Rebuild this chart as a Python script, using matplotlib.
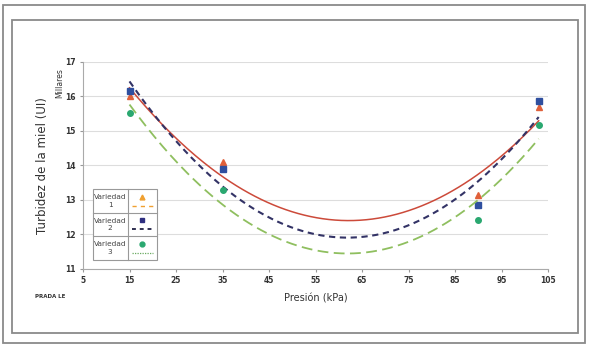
import numpy as np
import matplotlib
matplotlib.use("Agg")
import matplotlib.pyplot as plt
from matplotlib.patches import Rectangle

presion = [15, 35, 90, 103]
variedad1 = [16.00, 14.10, 13.14, 15.70]
variedad2 = [16.15, 13.88, 12.85, 15.87]
variedad3 = [15.52, 13.28, 12.41, 15.17]
names = ["Variedad\n1", "Variedad\n2", "Variedad\n3"]
xticks = [5, 15, 25, 35, 45, 55, 65, 75, 85, 95, 105]
yticks = [11, 12, 13, 14, 15, 16, 17]

fig = plt.figure(figsize=(5.9, 3.52), dpi=100)
W, H = 590, 352

# frames
for (x0, y0, x1, y1) in [(3, 5, 585, 343), (12, 20, 578, 333)]:
    fig.patches.append(Rectangle((x0 / W, 1 - y1 / H), (x1 - x0) / W, (y1 - y0) / H,
                                 transform=fig.transFigure, fill=False,
                                 edgecolor="#8a8a8a", linewidth=1.3))

ax = fig.add_axes([83 / W, 1 - 268.7 / H, (548 - 83) / W, (268.7 - 61.7) / H])
ax.set_xlim(5, 105)
ax.set_ylim(11, 17)
ax.set_xticks(xticks)
ax.set_yticks(yticks)
ax.tick_params(labelsize=5.5, length=2.5, color="#999999", pad=3)
for lab in ax.get_xticklabels() + ax.get_yticklabels():
    lab.set_fontweight("bold")
    lab.set_color("#333333")
ax.grid(axis="y", color="#dddddd", linewidth=0.8)
ax.set_axisbelow(True)
for s in ["top", "right"]:
    ax.spines[s].set_visible(False)
for s in ["left", "bottom"]:
    ax.spines[s].set_color("#aaaaaa")

xs = np.linspace(15, 103, 200)
series = [
    (variedad1, "^", "#e0603a", "#cc4a3a", "-", 1.1),
    (variedad2, "s", "#2f4f9f", "#333366", (0, (3, 2.2)), 1.5),
    (variedad3, "o", "#2aa870", "#8fbf5f", (0, (6, 3)), 1.3),
]
for vals, mk, mc, lc, ls, lw in series:
    c = np.polyfit(presion, vals, 2)
    ax.plot(xs, np.polyval(c, xs), color=lc, linestyle=ls, linewidth=lw)
    ax.plot(presion, vals, linestyle="none", marker=mk, color=mc, markersize=4)

ax.set_xlabel("Presión (kPa)", fontsize=7, color="#333333", labelpad=6)
ax.set_ylabel("Turbidez de la miel (UI)", fontsize=8.5, color="#333333", labelpad=11)
ax.text(-0.05, 0.895, "Millares", transform=ax.transAxes, rotation=90,
        fontsize=5.5, color="#333333", ha="center", va="center")
fig.text(35 / W, 1 - 297 / H, "PRADA LE", fontsize=4, fontweight="bold",
         color="#333333", va="center")

# legend table
lx0, lx1, ldiv = 92.7, 156.7, 127.7
rows = [189, 212.7, 236.3, 260]
fig.patches.append(Rectangle((lx0 / W, 1 - rows[-1] / H), (lx1 - lx0) / W,
                             (rows[-1] - rows[0]) / H,
                             transform=fig.transFigure, facecolor="white",
                             edgecolor="#999999", linewidth=0.8, zorder=5))
for y in rows[1:-1]:
    fig.add_artist(plt.Line2D([lx0 / W, lx1 / W], [1 - y / H] * 2, color="#999999",
                              linewidth=0.8, zorder=6))
fig.add_artist(plt.Line2D([ldiv / W] * 2, [1 - rows[0] / H, 1 - rows[-1] / H],
                          color="#999999", linewidth=0.8, zorder=6))
leg_style = [("^", "#f0a030", "#f0a030", (0, (3, 3)), 1.0),
             ("s", "#2f2f80", "#2f2f50", (0, (2, 2)), 1.4),
             ("o", "#2aa870", "#6aaa60", (0, (1, 1)), 0.9)]
for i, (nm, (mk, mc, lc, ls, lw)) in enumerate(zip(names, leg_style)):
    ya, yb = rows[i], rows[i + 1]
    fig.text(((lx0 + ldiv) / 2) / W, 1 - ((ya + yb) / 2) / H, nm, fontsize=5.3,
             ha="center", va="center", color="#444444", zorder=7, linespacing=1.3)
    cx = (ldiv + lx1) / 2
    fig.add_artist(plt.Line2D([cx / W], [1 - (ya + 7.5) / H], marker=mk, color=mc,
                              markersize=3.5, linestyle="none", zorder=7))
    fig.add_artist(plt.Line2D([(ldiv + 4) / W, (lx1 - 4) / W], [1 - (yb - 7) / H] * 2,
                              color=lc, linestyle=ls, linewidth=lw, zorder=7))

fig.savefig("out.png", dpi=100)
